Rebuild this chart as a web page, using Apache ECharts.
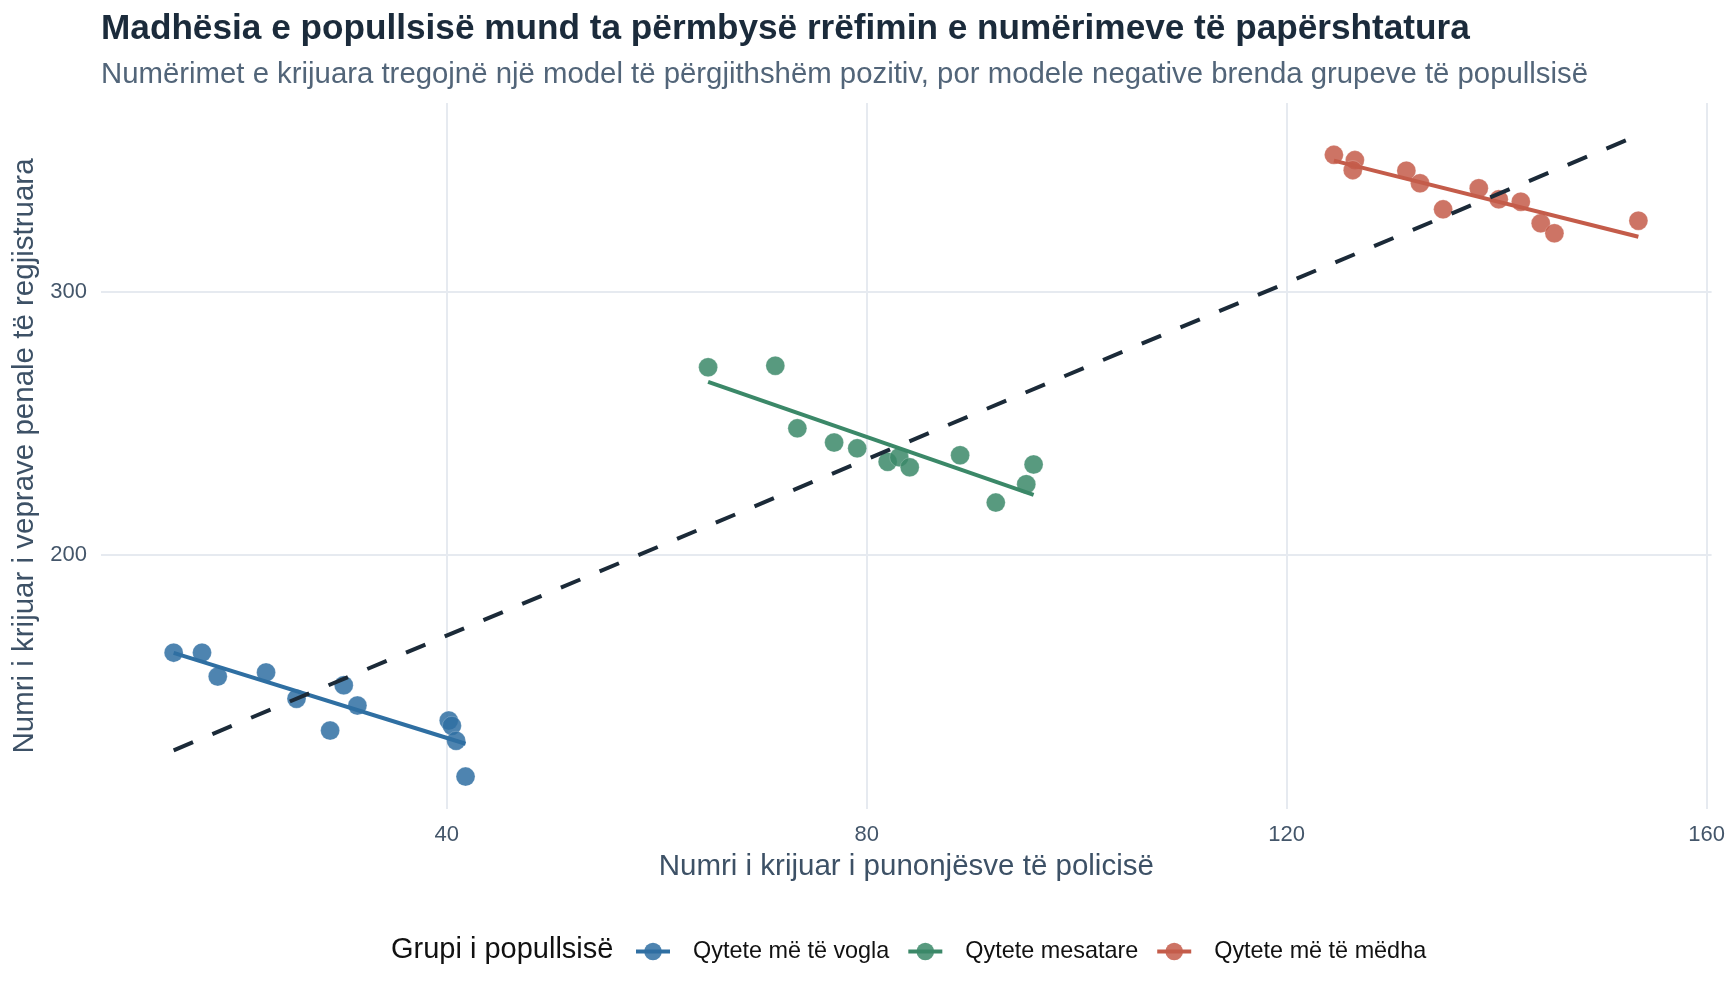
<!DOCTYPE html>
<html>
<head>
<meta charset="utf-8">
<title>Madhësia e popullsisë</title>
<script src="https://cdn.jsdelivr.net/npm/echarts@6/dist/echarts.min.js"></script>
<style>
	html, body { margin: 0; padding: 0; background: #fff; }
	#chart { width: 1728px; height: 998px; }
</style>
</head>
<body>
<div id="chart"></div>
<script>
/**
 * te dhenat e lexuara nga grafiku
 */
var groupNames = ['Qytete më të vogla', 'Qytete mesatare', 'Qytete më të mëdha'];
var groupLineColors = ['#2f6fa2', '#3b8868', '#c45c4a'];
var groupPointColors = ['#2f6fa2', '#3b8868', '#c45c4a'];

// qytete te vogla
var smallX = [14.0, 16.7, 18.2, 22.8, 25.7, 28.9, 30.2, 31.5, 40.2, 40.5, 40.9, 41.8];
var smallY = [162.9, 162.9, 153.8, 155.4, 145.4, 133.3, 150.5, 142.8, 137.1, 135.1, 129.4, 115.8];
// qytete mesatare
var midX = [64.9, 71.3, 73.4, 76.9, 79.1, 82.0, 83.1, 84.1, 88.9, 92.3, 95.2, 95.9];
var midY = [271.3, 271.9, 248.1, 242.7, 240.5, 235.4, 237.1, 233.3, 237.9, 219.9, 226.9, 234.4];
// qytete te medha
var largeX = [124.5, 126.5, 126.3, 131.4, 132.7, 134.9, 138.3, 140.2, 142.3, 144.2, 145.5, 153.5];
var largeY = [352.0, 350.0, 346.2, 346.0, 341.2, 331.3, 339.3, 335.1, 334.2, 326.0, 322.2, 327.0];

// vijat e trendit (pikat fundore)
var smallTrendX = [14.0, 41.8];
var smallTrendY = [162.8, 128.3];
var midTrendX = [64.9, 95.9];
var midTrendY = [265.8, 222.8];
var largeTrendX = [124.5, 153.5];
var largeTrendY = [349.8, 320.9];
var overallTrendX = [14.0, 153.5];
var overallTrendY = [125.8, 359.5];

// boshtet
var xTicks = [40, 80, 120, 160];
var yTicks = [200, 300];

var titleText = 'Madhësia e popullsisë mund ta përmbysë rrëfimin e numërimeve të papërshtatura';
var subtitleText = 'Numërimet e krijuara tregojnë një model të përgjithshëm pozitiv, por modele negative brenda grupeve të popullsisë';
var xName = 'Numri i krijuar i punonjësve të policisë';
var yName = 'Numri i krijuar i veprave penale të regjistruara';
var legendTitle = 'Grupi i popullsisë';

var FONT = 'Liberation Sans, Arial, sans-serif';

//bashko x dhe y ne pika
function zipXY(xs, ys) {
	var arr = [];
	for (var i = 0; i < xs.length; i++) {
		arr.push([xs[i], ys[i]]);
	}
	return arr;
}

var pointSets = [zipXY(smallX, smallY), zipXY(midX, midY), zipXY(largeX, largeY)];
var trendSets = [zipXY(smallTrendX, smallTrendY), zipXY(midTrendX, midTrendY), zipXY(largeTrendX, largeTrendY)];

var series = [];
// vijat e grupeve (te parat, qe legjenda te marre ikonen e vijes)
for (var g = 0; g < groupNames.length; g++) {
	series.push({
		name: groupNames[g],
		type: 'line',
		data: trendSets[g],
		symbol: 'circle',
		showSymbol: false,
		z: 4,
		lineStyle: { color: groupLineColors[g], width: 4 },
		itemStyle: { color: groupLineColors[g], opacity: 0.85 },
		silent: true
	});
}
// pikat
for (var g = 0; g < groupNames.length; g++) {
	series.push({
		name: groupNames[g],
		type: 'scatter',
		data: pointSets[g],
		symbol: 'circle',
		symbolSize: 19,
		z: 3,
		itemStyle: {
			color: groupPointColors[g],
			opacity: 0.85,
			borderColor: 'rgba(255,255,255,0.25)',
			borderWidth: 1
		}
	});
}
// vija e pergjithshme me ndarje
series.push({
	name: 'overall',
	type: 'line',
	data: zipXY(overallTrendX, overallTrendY),
	showSymbol: false,
	z: 5,
	silent: true,
	lineStyle: { color: '#1b2a38', width: 4, type: [21, 21] }
});

var myChart = echarts.init(document.getElementById('chart'), null, { renderer: 'canvas' });
myChart.setOption({
	animation: false,
	backgroundColor: '#ffffff',
	textStyle: { fontFamily: FONT },
	title: [{
		text: titleText,
		left: 96,
		top: 7,
		textStyle: { fontSize: 35.2, fontWeight: 'bold', color: '#1b2b3b', fontFamily: FONT }
	}, {
		text: subtitleText,
		left: 96,
		top: 55,
		textStyle: { fontSize: 29.35, fontWeight: 'normal', color: '#526579', fontFamily: FONT }
	}, {
		text: legendTitle,
		left: 386,
		top: 930,
		textStyle: { fontSize: 29, fontWeight: 'normal', color: '#111111', fontFamily: FONT }
	}],
	grid: { left: 101, right: 15, top: 103, bottom: 189, containLabel: false },
	xAxis: {
		type: 'value',
		min: 7.08,
		max: 160.47,
		name: xName,
		nameLocation: 'middle',
		nameGap: 43,
		nameTextStyle: { fontSize: 29.5, color: '#3d5166', fontFamily: FONT },
		axisLine: { show: false },
		axisTick: { show: false, customValues: xTicks },
		axisLabel: { customValues: xTicks, fontSize: 22, color: '#44566a', margin: 15, fontFamily: FONT },
		splitLine: { show: true, lineStyle: { color: '#e6eaf0', width: 2 } }
	},
	yAxis: {
		type: 'value',
		min: 103.5,
		max: 371.7,
		name: yName,
		nameLocation: 'middle',
		nameGap: 51,
		nameTextStyle: { fontSize: 29.5, color: '#3d5166', fontFamily: FONT },
		axisLine: { show: false },
		axisTick: { show: false, customValues: yTicks },
		axisLabel: { customValues: yTicks, fontSize: 22, color: '#44566a', margin: 14, fontFamily: FONT },
		splitLine: { show: true, lineStyle: { color: '#e6eaf0', width: 2 } }
	},
	legend: {
		data: groupNames,
		left: 629,
		top: 935,
		orient: 'horizontal',
		itemWidth: 34,
		itemHeight: 22,
		itemGap: 17,
		lineStyle: { width: 4 },
		textStyle: { fontSize: 23.4, color: '#111111', fontFamily: FONT, padding: [0, 0, 0, 18] }
	},
	series: series
});
</script>
</body>
</html>
